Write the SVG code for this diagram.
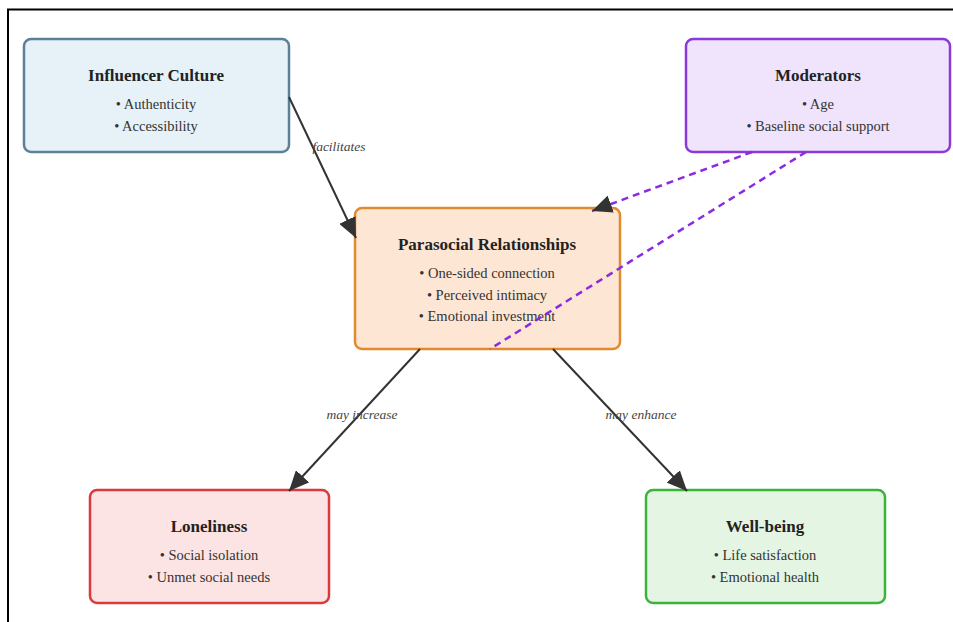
<svg xmlns="http://www.w3.org/2000/svg" width="953" height="622" viewBox="0 0 953 622">
<defs>
<style>
.box{stroke-width:2.5}
.title{font-family:"Liberation Serif","Times New Roman",serif;font-weight:bold;font-size:17px;fill:#222;text-anchor:middle}
.item{font-family:"Liberation Serif","Times New Roman",serif;font-size:14.5px;fill:#333;text-anchor:middle}
.lbl{font-family:"Liberation Serif","Times New Roman",serif;font-style:italic;font-size:13.5px;fill:#444;text-anchor:middle}
.edge{stroke:#333;stroke-width:2;fill:none}
.dash{stroke:#8a2be2;stroke-width:2.5;stroke-dasharray:7,5;fill:none}
</style>
<marker id="arr" markerUnits="userSpaceOnUse" markerWidth="21" markerHeight="18" refX="20" refY="9" orient="auto">
<path d="M0,0 L20,9 L0,18 z" fill="#333"/>
</marker>
</defs>
<rect width="953" height="622" fill="#fff"/>
<path d="M8,622 V9.5 H953" stroke="#000" stroke-width="2" fill="none"/>

<g id="node-influencer">
<rect class="box" x="24" y="39" width="265" height="113" rx="7" fill="#e6f2f8" stroke="#5b8198"/>
<text class="title" x="156" y="81">Influencer Culture</text>
<text class="item" x="156" y="109">• Authenticity</text>
<text class="item" x="156" y="131">• Accessibility</text>
</g>
<g id="node-moderators">
<rect class="box" x="686" y="39" width="264" height="113" rx="7" fill="#efe4fc" stroke="#8a3ad8"/>
<text class="title" x="818" y="81">Moderators</text>
<text class="item" x="818" y="109">• Age</text>
<text class="item" x="818" y="131">• Baseline social support</text>
</g>
<g id="node-parasocial">
<rect class="box" x="355" y="208" width="265" height="141" rx="7" fill="#fde6d4" stroke="#e08a32"/>
<text class="title" x="487" y="250">Parasocial Relationships</text>
<text class="item" x="487" y="278">• One-sided connection</text>
<text class="item" x="487" y="300">• Perceived intimacy</text>
<text class="item" x="487" y="321">• Emotional investment</text>
</g>
<g id="node-loneliness">
<rect class="box" x="90" y="490" width="239" height="113" rx="7" fill="#fde4e4" stroke="#dc3a3a"/>
<text class="title" x="209" y="532">Loneliness</text>
<text class="item" x="209" y="560">• Social isolation</text>
<text class="item" x="209" y="582">• Unmet social needs</text>
</g>
<g id="node-wellbeing">
<rect class="box" x="646" y="490" width="239" height="113" rx="7" fill="#e4f5e4" stroke="#3cb43c"/>
<text class="title" x="765" y="532">Well-being</text>
<text class="item" x="765" y="560">• Life satisfaction</text>
<text class="item" x="765" y="582">• Emotional health</text>
</g>

<g id="connectors">
<line class="edge" x1="289" y1="97" x2="356" y2="238" marker-end="url(#arr)"/>
<text class="lbl" x="339" y="151">facilitates</text>
<line class="dash" x1="752" y1="152" x2="592" y2="211" marker-end="url(#arr)"/>
<line class="dash" x1="806" y1="152" x2="490" y2="349"/>
<line class="edge" x1="420" y1="349" x2="289" y2="491" marker-end="url(#arr)"/>
<text class="lbl" x="362" y="419">may increase</text>
<line class="edge" x1="553" y1="349" x2="687" y2="491" marker-end="url(#arr)"/>
<text class="lbl" x="641" y="419">may enhance</text>
</g>
</svg>
